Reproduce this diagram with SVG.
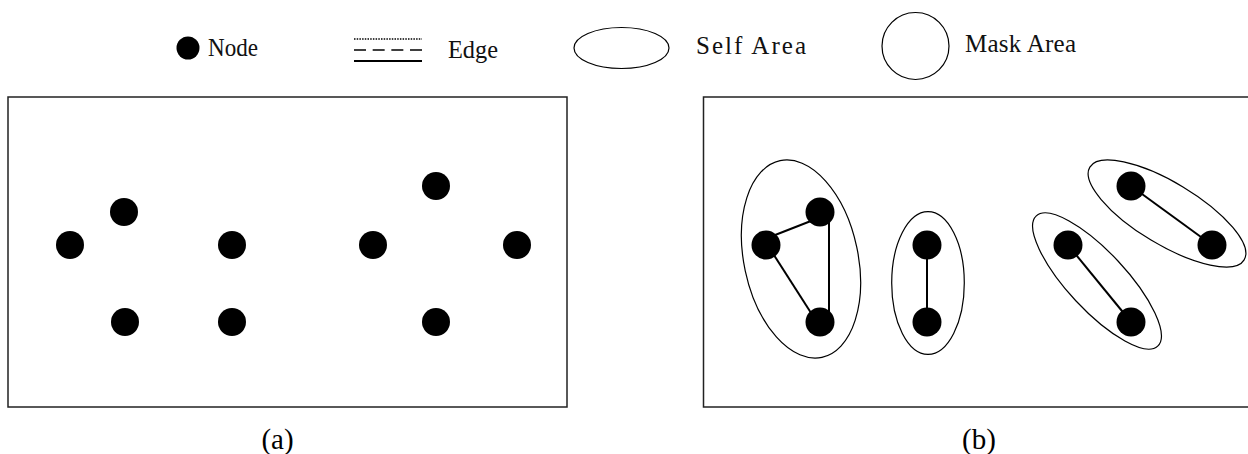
<svg xmlns="http://www.w3.org/2000/svg" width="1248" height="454" viewBox="0 0 1248 454">
<style>
.frame{fill:none;stroke:#222;stroke-width:1.5}
.node{fill:#000}
.area{fill:none;stroke:#000;stroke-width:1.2}
.edge{stroke:#000;stroke-width:2;fill:none}
.leg{font-family:"Liberation Serif","Times New Roman",serif;font-size:25px;fill:#111}
.cap{font-family:"Liberation Serif","Times New Roman",serif;font-size:29px;fill:#000;text-anchor:middle}
</style>
<rect width="1248" height="454" fill="#fff"/>
<g id="legend">
  <g id="legend-node">
    <circle class="node" cx="188" cy="48" r="11.5"/>
    <text class="leg" x="208" y="56" textLength="50" lengthAdjust="spacingAndGlyphs">Node</text>
  </g>
  <g id="legend-edge">
    <line x1="354" y1="39" x2="422" y2="39" stroke="#000" stroke-width="1.5" stroke-dasharray="1.5 1.2"/>
    <line x1="354" y1="50" x2="422" y2="50" stroke="#000" stroke-width="1.5" stroke-dasharray="12 6.67"/>
    <line x1="354" y1="61" x2="422" y2="61" stroke="#000" stroke-width="2"/>
    <text class="leg" x="448" y="58" textLength="50" lengthAdjust="spacingAndGlyphs">Edge</text>
  </g>
  <g id="legend-self">
    <ellipse class="area" cx="621.5" cy="48" rx="47.5" ry="20.5"/>
    <text class="leg" x="696" y="54" textLength="110" lengthAdjust="spacing">Self Area</text>
  </g>
  <g id="legend-mask">
    <circle class="area" cx="915.5" cy="46" r="33.5"/>
    <text class="leg" x="965" y="52" textLength="111" lengthAdjust="spacing">Mask Area</text>
  </g>
</g>
<g id="panel-a">
  <rect class="frame" x="8" y="97" width="559" height="310"/>
  <g id="a-nodes">
    <circle id="a1" class="node" cx="70" cy="245" r="14"/>
    <circle id="a2" class="node" cx="124" cy="212" r="14"/>
    <circle id="a3" class="node" cx="125" cy="322" r="14"/>
    <circle id="a4" class="node" cx="232" cy="245" r="14"/>
    <circle id="a5" class="node" cx="232" cy="322" r="14"/>
    <circle id="a6" class="node" cx="373" cy="245" r="14"/>
    <circle id="a7" class="node" cx="436" cy="186" r="14"/>
    <circle id="a8" class="node" cx="436" cy="322" r="14"/>
    <circle id="a9" class="node" cx="517" cy="245" r="14"/>
  </g>
  <text class="cap" x="277.5" y="449">(a)</text>
</g>
<g id="panel-b">
  <rect class="frame" x="703.5" y="97" width="550" height="310"/>
  <g id="areas">
    <ellipse class="area" cx="801" cy="259" rx="57" ry="100.5" transform="rotate(-12 801 259)"/>
    <ellipse class="area" cx="928" cy="283" rx="36.3" ry="71.3"/>
    <ellipse class="area" cx="1097" cy="281" rx="89" ry="29" transform="rotate(47 1097 281)"/>
    <ellipse class="area" cx="1167" cy="213.5" rx="90" ry="31" transform="rotate(31 1167 213.5)"/>
  </g>
  <g id="connectors">
    <line class="edge" x1="770" y1="237" x2="816" y2="219"/>
    <line class="edge" x1="772" y1="252" x2="813" y2="316"/>
    <line class="edge" x1="829" y1="214" x2="829" y2="320"/>
    <line class="edge" x1="927" y1="245" x2="927" y2="322"/>
    <line class="edge" x1="1068" y1="245" x2="1131" y2="322"/>
    <line class="edge" x1="1131" y1="186" x2="1212" y2="245"/>
  </g>
  <g id="b-nodes">
    <circle id="b1" class="node" cx="766" cy="245" r="14.5"/>
    <circle id="b2" class="node" cx="820" cy="212" r="14.5"/>
    <circle id="b3" class="node" cx="820" cy="322" r="14.5"/>
    <circle id="b4" class="node" cx="927" cy="245" r="14.5"/>
    <circle id="b5" class="node" cx="927" cy="322" r="14.5"/>
    <circle id="b6" class="node" cx="1068" cy="245" r="14.5"/>
    <circle id="b7" class="node" cx="1131" cy="186" r="14.5"/>
    <circle id="b8" class="node" cx="1131" cy="322" r="14.5"/>
    <circle id="b9" class="node" cx="1212" cy="245" r="14.5"/>
  </g>
  <text class="cap" x="979" y="449">(b)</text>
</g>
</svg>
